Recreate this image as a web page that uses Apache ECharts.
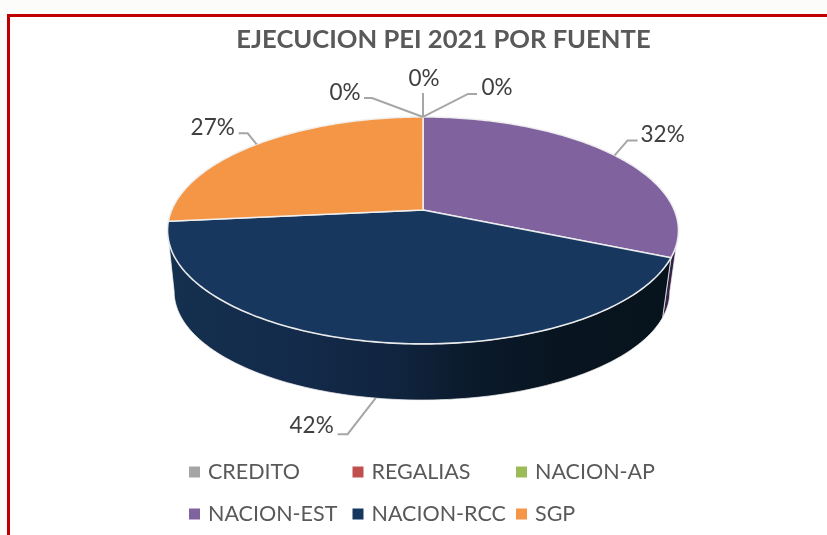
<!DOCTYPE html>
<html><head><meta charset="utf-8">
<style>html,body{margin:0;padding:0;background:#fcfcfa}#c{width:827px;height:535px}</style>
<script src="https://cdn.jsdelivr.net/npm/echarts@6/dist/echarts.min.js"></script>
</head><body><div id="c"></div>
<script>
const titleText = 'EJECUCION PEI 2021 POR FUENTE';
const categories = ['CREDITO','REGALIAS','NACION-AP','NACION-EST','NACION-RCC','SGP'];
const values = [0,0,0,31.6,41.8,26.6];
const colors = ['#a5a5a5','#c0504d','#9bbb59','#7f629e','#17375e','#f49645'];

// Oblique projection of the pie disc: upper face and lower rim
const upperPlane = {cx:423,cy:210,a:109.8,b:251.3,p:0.18};
const lowerPlane = {cx:422,cy:272,a:105,b:243.8,p:0.18};
const frontFrom = 100.4, frontTo = 259.6;
const wallShades = {
  'NACION-EST':[[0,'#3a2a50'],[1,'#2a1c3c']],
  'NACION-RCC':[[0,'#15304f'],[0.26,'#132a4a'],[0.46,'#10243e'],[0.6,'#0b1a2c'],[0.76,'#081521'],[1,'#07131c']]
};
// Leader elbows and label centres, relative to the slice's anchor point
const labelLayout = [
  {anchor:'upper',elbow:[[-51,-19],[-59,-19]],text:[-78,-24]},
  {anchor:'upper',elbow:[[0,-24],[0,-24]],text:[1,-38]},
  {anchor:'upper',elbow:[[45,-23],[54,-23]],text:[74,-29]},
  {anchor:'upper',elbow:[[13,-15],[23,-15]],text:[48,-21]},
  {anchor:'lower',elbow:[[-28,36],[-38,36]],text:[-64,28]},
  {anchor:'upper',elbow:[[-9,-11],[-18,-11]],text:[-44,-17]}
];
const total = values.reduce((s,v)=>s+v,0);
const rad = d => d*Math.PI/180;
function project(pl,deg){
  const u=Math.sin(rad(deg)), v=Math.cos(rad(deg)), w=1+pl.p*v;
  return [pl.cx+pl.b*u/w, pl.cy-pl.a*v/w];
}
function arc(pl,from,to){
  const pts=[], n=Math.max(2,Math.ceil(Math.abs(to-from)));
  for(let i=0;i<=n;i++) pts.push(project(pl,from+(to-from)*i/n));
  return pts;
}
const edge = 'rgba(240,240,240,0.95)';
function renderSlice(idx){
  return function(params,api){
    const val = api.value(0);
    const before = values.slice(0,idx).reduce((s,v)=>s+v,0);
    const from = before/total*360, to = (before+val)/total*360, mid=(from+to)/2;
    const children=[];
    const wf=Math.max(from,frontFrom), wt=Math.min(to,frontTo);
    if(val>0 && wt>wf){
      const stops=(wallShades[categories[idx]]||[[0,colors[idx]],[1,colors[idx]]]).map(s=>({offset:s[0],color:s[1]}));
      children.push({type:'polygon',shape:{points:arc(upperPlane,wf,wt).concat(arc(lowerPlane,wf,wt).reverse())},
        style:{fill:{type:'linear',x:0,y:0,x2:1,y2:0,colorStops:stops},stroke:edge,lineWidth:0.8}});
    }
    if(val>0){
      children.push({type:'polygon',shape:{points:[[upperPlane.cx,upperPlane.cy]].concat(arc(upperPlane,from,to))},
        style:{fill:colors[idx],stroke:edge,lineWidth:1.6}});
    }
    const lay=labelLayout[idx];
    const at=project(lay.anchor==='upper'?upperPlane:lowerPlane,mid);
    children.push({type:'polyline',z2:20,shape:{points:[at,[at[0]+lay.elbow[0][0],at[1]+lay.elbow[0][1]],[at[0]+lay.elbow[1][0],at[1]+lay.elbow[1][1]]]},
      style:{fill:'none',stroke:'#a6a6a6',lineWidth:2}});
    children.push({type:'text',z2:21,x:at[0]+lay.text[0],y:at[1]+lay.text[1],
      style:{text:Math.round(val/total*100)+'%',font:'22.5px Lato',fill:'#404040',align:'center',verticalAlign:'middle'}});
    return {type:'group',children};
  };
}
const legendColumns = [[categories[0],categories[3]],[categories[1],categories[4]],[categories[2],categories[5]]];
const legendLeft = [189,352.5,516];
const chart = echarts.init(document.getElementById('c'),null,{renderer:'canvas'});
chart.setOption({
  animation:false,
  backgroundColor:'#fcfcfa',
  color:colors,
  graphic:[{type:'rect',z:-10,silent:true,shape:{x:8.5,y:15.5,width:900,height:700},
    style:{fill:'#ffffff',stroke:'#c00000',lineWidth:3}}],
  title:{text:titleText,left:438.5,top:22,textAlign:'center',
    textStyle:{fontFamily:'Lato',fontWeight:'bold',fontSize:25.6,color:'#595959'}},
  legend:legendColumns.map((col,i)=>({data:col,orient:'vertical',left:legendLeft[i],top:460,padding:0,
    itemWidth:11,itemHeight:11,itemGap:18,icon:'rect',selectedMode:false,
    textStyle:{fontFamily:'Lato',fontSize:21.5,color:'#595959',lineHeight:24,padding:[0,0,0,3]}})),
  series:categories.map((name,i)=>({type:'custom',name,coordinateSystem:'none',
    data:[[values[i]]],itemStyle:{color:colors[i]},renderItem:renderSlice(i),silent:true}))
});
</script></body></html>
